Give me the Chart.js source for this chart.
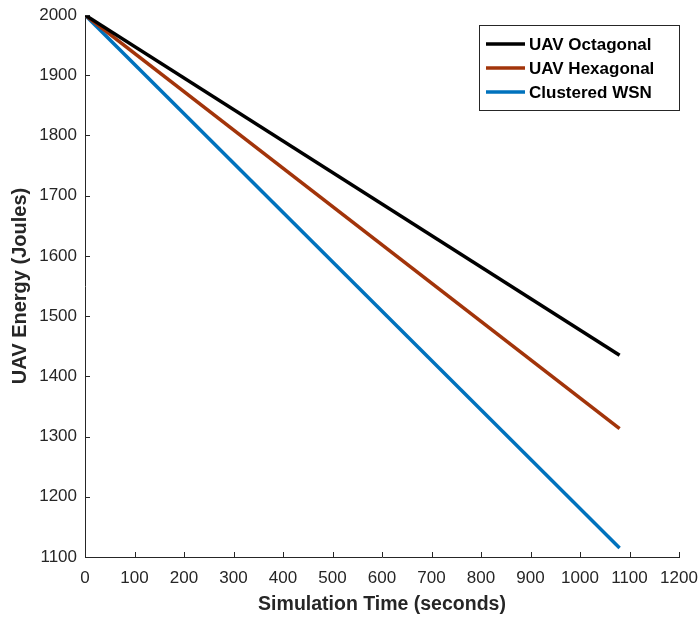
<!DOCTYPE html>
<html>
<head>
<meta charset="utf-8">
<script src="https://cdn.jsdelivr.net/npm/chart.js@4"></script>
<style>
  html, body { margin: 0; padding: 0; background: #ffffff; }
  #wrap { width: 698px; height: 617px; }
</style>
</head>
<body>
<div id="wrap"><canvas id="c" width="698" height="617"></canvas></div>
<script>
// Data
const timeSeconds = [0, 1080];
const uavOctagonal = [2000, 1435];
const uavHexagonal = [2000, 1313];
const clusteredWSN = [2000, 1115];
const seriesNames = ['UAV Octagonal', 'UAV Hexagonal', 'Clustered WSN'];
const xTicks = [0, 100, 200, 300, 400, 500, 600, 700, 800, 900, 1000, 1100, 1200];
const yTicks = [1100, 1200, 1300, 1400, 1500, 1600, 1700, 1800, 1900, 2000];

const colors = ['#000000', '#A2340A', '#0072BD'];
const axisColor = '#262626';
const FONT = '"Liberation Sans", Arial, sans-serif';

function pts(ys) { return timeSeconds.map((x, i) => ({ x: x, y: ys[i] })); }

const innerTicks = {
  id: 'innerTicks',
  afterDraw(chart) {
    const ctx = chart.ctx;
    const xs = chart.scales.x, ys = chart.scales.y;
    const area = chart.chartArea;
    ctx.save();
    ctx.strokeStyle = axisColor;
    ctx.lineWidth = 1;
    ctx.beginPath();
    xs.ticks.forEach(t => {
      const px = Math.round(xs.getPixelForValue(t.value)) + 0.5;
      ctx.moveTo(px, area.bottom);
      ctx.lineTo(px, area.bottom - 5);
    });
    ys.ticks.forEach(t => {
      const py = Math.round(ys.getPixelForValue(t.value)) + 0.5;
      ctx.moveTo(area.left, py);
      ctx.lineTo(area.left + 5, py);
    });
    ctx.stroke();
    ctx.restore();
  }
};

const boxLegend = {
  id: 'boxLegend',
  afterDraw(chart) {
    const ctx = chart.ctx;
    const left = 479, top = 25, right = 680, bottom = 111;
    ctx.save();
    ctx.fillStyle = '#ffffff';
    ctx.fillRect(left, top, right - left, bottom - top);
    ctx.strokeStyle = '#262626';
    ctx.lineWidth = 1;
    ctx.strokeRect(left + 0.5, top + 0.5, right - left - 1, bottom - top - 1);
    ctx.font = 'bold 17px ' + FONT;
    ctx.textBaseline = 'middle';
    ctx.textAlign = 'left';
    chart.data.datasets.forEach((ds, i) => {
      const y = 44 + i * 24;
      ctx.strokeStyle = ds.borderColor;
      ctx.lineWidth = 3.5;
      ctx.beginPath();
      ctx.moveTo(486, y);
      ctx.lineTo(525, y);
      ctx.stroke();
      ctx.fillStyle = '#000000';
      ctx.fillText(ds.label, 529, y + 1);
    });
    ctx.restore();
  }
};

new Chart(document.getElementById('c'), {
  type: 'line',
  data: {
    datasets: [
      { label: seriesNames[0], data: pts(uavOctagonal), borderColor: colors[0] },
      { label: seriesNames[1], data: pts(uavHexagonal), borderColor: colors[1] },
      { label: seriesNames[2], data: pts(clusteredWSN), borderColor: colors[2] }
    ].map(d => Object.assign(d, { borderWidth: 3.5, pointRadius: 0, fill: false, tension: 0 }))
  },
  options: {
    responsive: false,
    animation: false,
    layout: { padding: { top: 15, right: 19, left: 0, bottom: 0 } },
    plugins: { legend: { display: false }, tooltip: { enabled: false } },
    scales: {
      x: {
        type: 'linear',
        min: 0, max: 1200,
        afterBuildTicks(scale) { scale.ticks = xTicks.map(v => ({ value: v })); },
        afterFit(scale) { scale.height = 60; scale.paddingLeft = 0; scale.paddingRight = 0; },
        grid: { display: true, drawOnChartArea: false, drawTicks: false, color: axisColor },
        border: { display: true, color: axisColor, width: 1 },
        ticks: { color: axisColor, font: { family: FONT, size: 17 }, padding: 11, maxRotation: 0, autoSkip: false, callback: v => String(v) },
        title: { display: true, text: 'Simulation Time (seconds)', color: axisColor, font: { family: FONT, size: 19.5, weight: 'bold' }, padding: { top: 0, bottom: 1 } }
      },
      y: {
        type: 'linear',
        min: 1100, max: 2000,
        afterBuildTicks(scale) { scale.ticks = yTicks.map(v => ({ value: v })); },
        afterFit(scale) { scale.width = 85; scale.paddingTop = 0; scale.paddingBottom = 0; },
        grid: { display: true, drawOnChartArea: false, drawTicks: false, color: axisColor },
        border: { display: true, color: axisColor, width: 1 },
        ticks: { color: axisColor, font: { family: FONT, size: 17 }, padding: 8, autoSkip: false, callback: v => String(v) },
        title: { display: true, text: 'UAV Energy (Joules)', color: axisColor, font: { family: FONT, size: 20, weight: 'bold' }, padding: { top: 8, bottom: 0 } }
      }
    }
  },
  plugins: [innerTicks, boxLegend]
});
</script>
</body>
</html>
